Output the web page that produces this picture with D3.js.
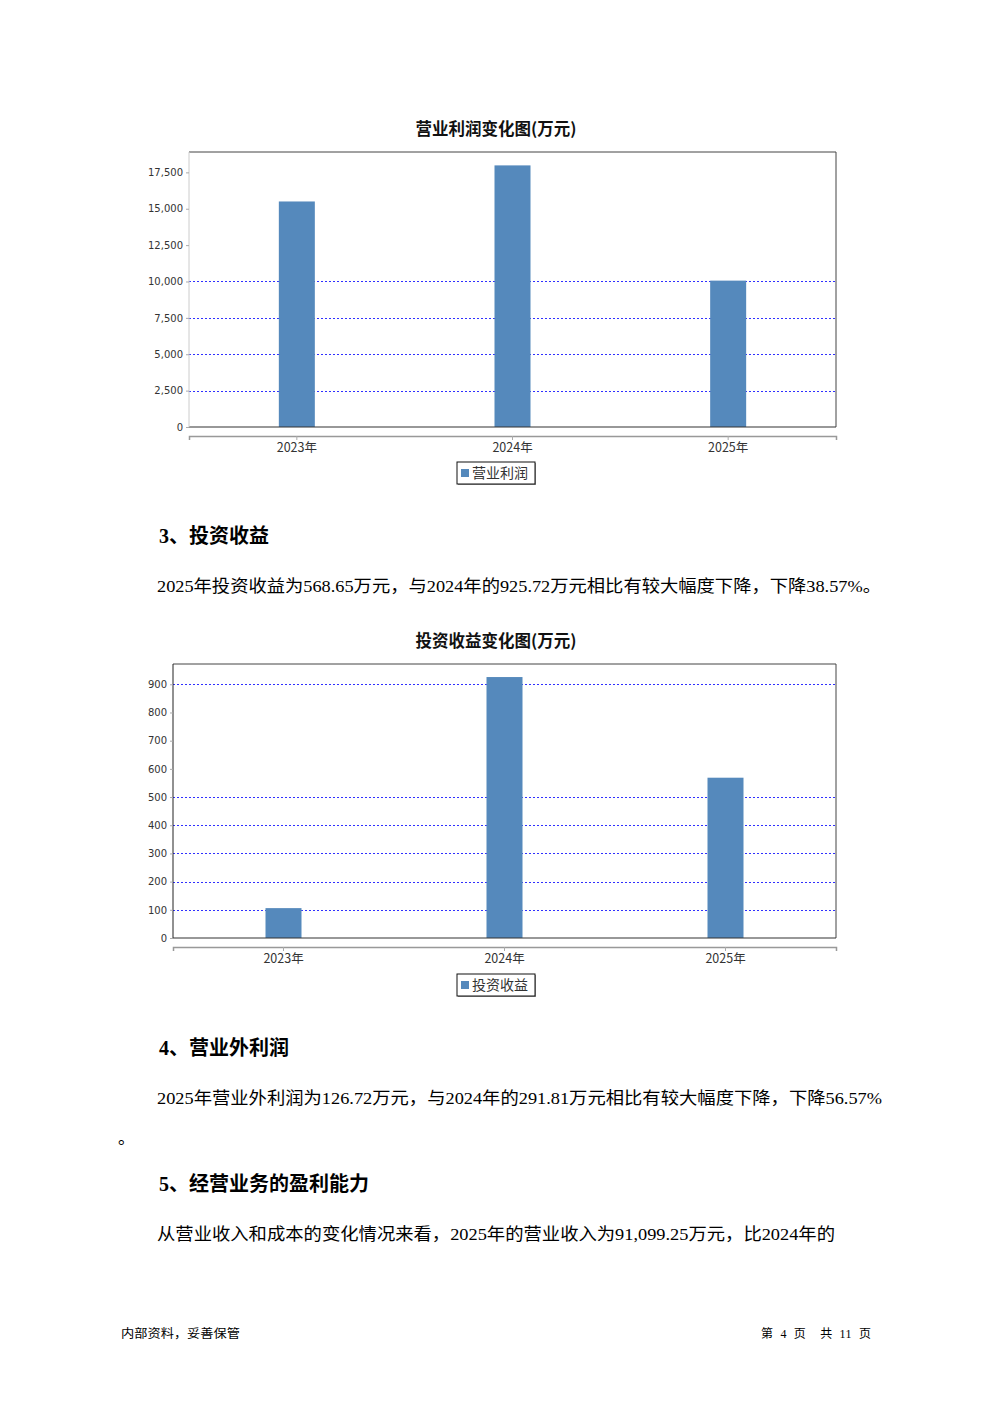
<!DOCTYPE html>
<html><head><meta charset="utf-8">
<script src="https://cdn.jsdelivr.net/npm/d3@7/dist/d3.min.js"></script>
<style>
html,body{margin:0;padding:0;background:#fff;}
svg{display:block;}
</style></head>
<body>
<svg id="page" width="992" height="1403"></svg>
<script>
// ---------- data ----------
const categories = ["2023年", "2024年", "2025年"];
const profitValues = [15500, 17980, 10060];          // 营业利润 (万元)
const investValues = [106, 925.72, 568.65];          // 投资收益 (万元)
const profitTicks = [0, 2500, 5000, 7500, 10000, 12500, 15000, 17500];
const profitGrid = [2500, 5000, 7500, 10000];
const investTicks = [0, 100, 200, 300, 400, 500, 600, 700, 800, 900];
const investGrid = [100, 200, 300, 400, 500, 900];

const svg = d3.select("#page");
const CJK = "'Noto Sans CJK SC','Noto Sans',sans-serif";
const SERIF = "'Liberation Serif','Noto Sans CJK SC',serif";
const BAR = "#5589bc";

function drawChart(cfg) {
  const {title, titleY, left, right, top, zero, axisY, values, ticks, grid, ymax, legend, legendY} = cfg;
  const g = svg.append("g");
  g.append("text").attr("x", 496).attr("y", titleY).attr("text-anchor", "middle")
    .attr("font-family", CJK).attr("font-weight", "bold").attr("font-size", 16.5).attr("fill", "#111")
    .text(title);

  const y = d3.scaleLinear().domain([0, ymax]).range([zero, top]);
  const x = d3.scaleBand().domain(categories).range([left, right]).padding(0);
  const pi = 1 - 36 / ((right - left) / categories.length);
  const xb = d3.scaleBand().domain(categories).range([left, right]).paddingInner(pi).paddingOuter(pi / 2);
  const crisp = v => Math.round(v) + 0.5;

  // grid lines
  g.selectAll(".grid").data(grid).join("line")
    .attr("x1", left).attr("x2", right).attr("y1", d => crisp(y(d))).attr("y2", d => crisp(y(d)))
    .attr("stroke", "#3030ff").attr("stroke-width", 1).attr("stroke-dasharray", "2,2");

  // bars
  g.selectAll(".bar").data(values).join("rect")
    .attr("x", (d, i) => xb(categories[i])).attr("width", xb.bandwidth())
    .attr("y", d => y(d)).attr("height", d => y(0) - y(d))
    .attr("fill", BAR);

  // plot border
  g.append("line").attr("x1", left).attr("x2", right).attr("y1", top).attr("y2", top).attr("stroke", "#444");
  g.append("line").attr("x1", right).attr("x2", right).attr("y1", top).attr("y2", zero).attr("stroke", "#444");
  g.append("line").attr("x1", left).attr("x2", right).attr("y1", zero).attr("y2", zero).attr("stroke", "#333").attr("stroke-width", 1.2);
  g.append("line").attr("x1", left).attr("x2", left).attr("y1", top).attr("y2", zero).attr("stroke", cfg.leftColor).attr("stroke-width", 1);

  // y axis
  const ya = g.append("g").attr("transform", `translate(${left},0)`)
    .call(d3.axisLeft(y).tickValues(ticks).tickFormat(d3.format(",")).tickSize(3).tickPadding(3));
  ya.select(".domain").remove();
  ya.selectAll("line").attr("stroke", "#aaa");
  ya.selectAll("text").attr("font-family", "'DejaVu Sans',sans-serif").attr("font-size", 10).attr("fill", "#333");

  // x axis
  const xa = g.append("g").attr("transform", `translate(0,${axisY})`)
    .call(d3.axisBottom(x).tickSize(4).tickPadding(3));
  xa.select(".domain").attr("stroke", "#999").attr("stroke-width", 1.5);
  xa.selectAll("line").attr("stroke", "#aaa");
  xa.selectAll("text").attr("font-family", CJK).attr("font-size", 12.5).attr("fill", "#333");

  // legend
  const lw = 78, lh = 22, lx = 496 - lw / 2;
  const lg = g.append("g");
  lg.append("rect").attr("x", lx + 1).attr("y", legendY + 1).attr("width", lw).attr("height", lh).attr("fill", "#999");
  lg.append("rect").attr("x", lx).attr("y", legendY).attr("width", lw).attr("height", lh).attr("fill", "#fff").attr("stroke", "#111");
  lg.append("rect").attr("x", lx + 4).attr("y", legendY + 7).attr("width", 8).attr("height", 8).attr("fill", BAR);
  lg.append("text").attr("x", lx + 15).attr("y", legendY + 16).attr("font-family", CJK).attr("font-size", 14).attr("fill", "#333").text(legend);
}

drawChart({title: "营业利润变化图(万元)", titleY: 135, left: 189, right: 836, top: 152, zero: 427, axisY: 436,
  values: profitValues, ticks: profitTicks, grid: profitGrid, ymax: 18900, legend: "营业利润", legendY: 462, leftColor: "#ccc"});
drawChart({title: "投资收益变化图(万元)", titleY: 647, left: 173, right: 836, top: 664, zero: 938, axisY: 947,
  values: investValues, ticks: investTicks, grid: investGrid, ymax: 972, legend: "投资收益", legendY: 974, leftColor: "#222"});

// ---------- body text ----------
function heading(t, x, yy) {
  svg.append("text").attr("x", x).attr("y", yy).attr("font-family", SERIF).attr("font-weight", "bold")
    .attr("font-size", 20).attr("fill", "#000").text(t);
}
function para(t, x, yy, w) {
  const tx = svg.append("text").attr("x", x).attr("y", yy).attr("font-family", SERIF)
    .attr("font-size", 17).attr("fill", "#000").text(t);
  if (w) tx.attr("textLength", w).attr("lengthAdjust", "spacingAndGlyphs");
}
heading("3、投资收益", 159, 543);
para("2025年投资收益为568.65万元，与2024年的925.72万元相比有较大幅度下降，下降38.57%。", 157, 592, 724);
heading("4、营业外利润", 159, 1055);
para("2025年营业外利润为126.72万元，与2024年的291.81万元相比有较大幅度下降，下降56.57%", 157, 1104, 725);
para("。", 118, 1144);
heading("5、经营业务的盈利能力", 159, 1191);
para("从营业收入和成本的变化情况来看，2025年的营业收入为91,099.25万元，比2024年的", 157, 1240, 678);

// footer
svg.append("text").attr("x", 121).attr("y", 1338).attr("font-family", CJK).attr("font-size", 12)
  .attr("textLength", 119).attr("lengthAdjust", "spacingAndGlyphs").text("内部资料，妥善保管");
svg.append("text").attr("x", 761).attr("y", 1338).attr("font-family", SERIF).attr("font-size", 12)
  .attr("textLength", 110).attr("lengthAdjust", "spacing")
  .attr("xml:space", "preserve").text("第  4  页    共  11  页");
</script>
</body></html>
